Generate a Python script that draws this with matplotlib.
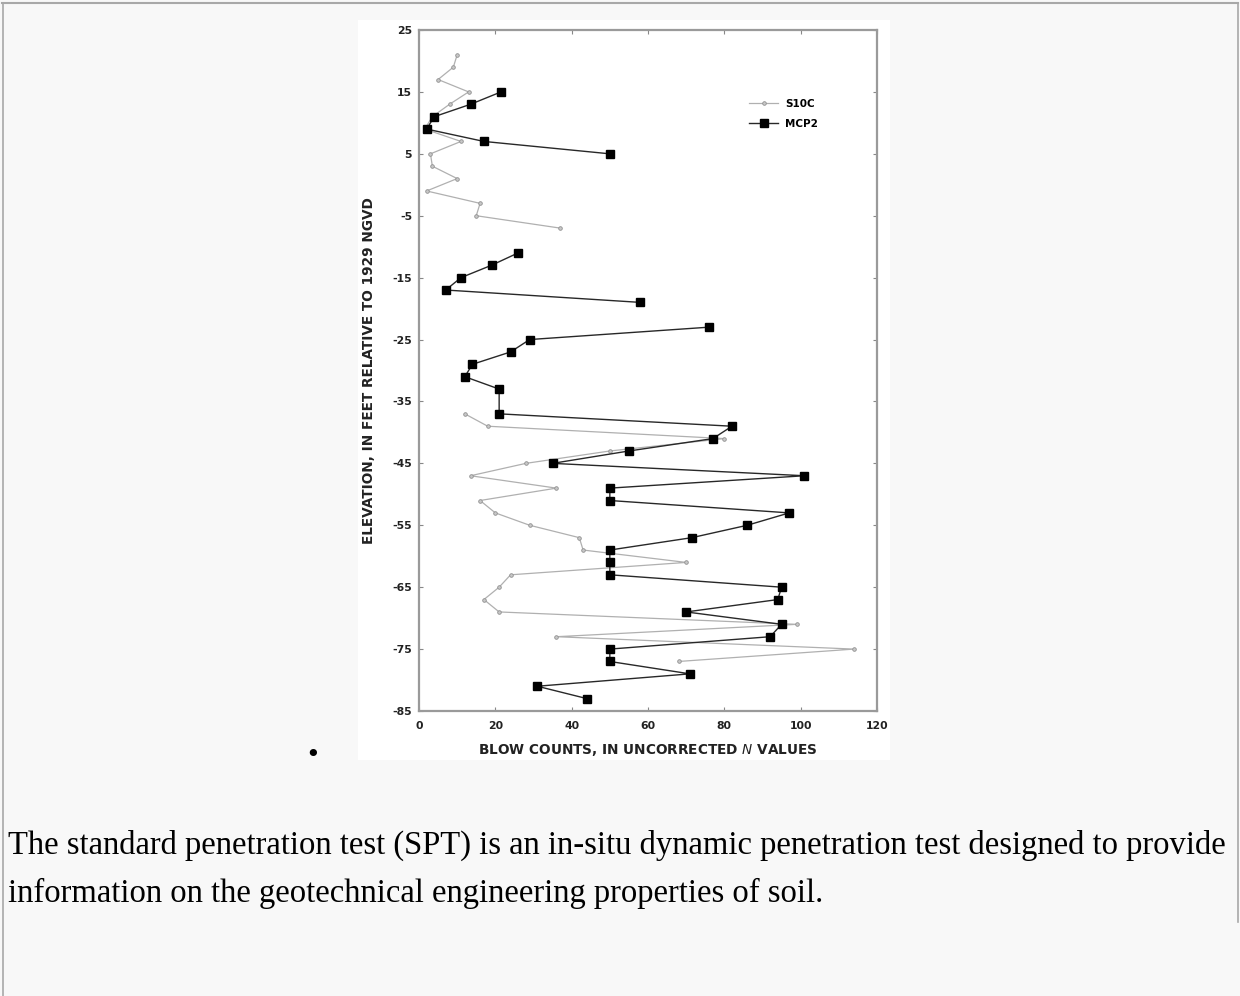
import numpy as np
import matplotlib
matplotlib.use("Agg")
import matplotlib.pyplot as plt
from matplotlib.patches import Rectangle
from matplotlib.lines import Line2D

# ---------------- data ----------------
s10c_elev = [21, 19, 17, 15, 13, 11, 9, 7, 5, 3, 1, -1, -3, -5, -7, np.nan,
             -37, -39, -41, -43, -45, -47, -49, -51, -53, -55, -57, -59, -61,
             -63, -65, -67, -69, -71, -73, -75, -77]
s10c_n = [10, 9, 5, 13, 8, 3.5, 1.5, 11, 3, 3.5, 10, 2, 16, 15, 37, np.nan,
          12, 18, 80, 50, 28, 13.5, 36, 16, 20, 29, 42, 43, 70,
          24, 21, 17, 21, 99, 36, 114, 68]

mcp2_elev = [15, 13, 11, 9, 7, 5, np.nan, -11, -13, -15, -17, -19, np.nan,
             -23, -25, -27, -29, -31, -33, -37, -39, -41, -43, -45, -47, -49,
             -51, -53, -55, -57, -59, -61, -63, -65, -67, -69, -71, -73, -75,
             -77, -79, -81, -83]
mcp2_n = [21.5, 13.5, 4, 2, 17, 50, np.nan, 26, 19, 11, 7, 58, np.nan,
          76, 29, 24, 14, 12, 21, 21, 82, 77, 55, 35, 101, 50,
          50, 97, 86, 71.5, 50, 50, 50, 95, 94, 70, 95, 92, 50,
          50, 71, 31, 44]

x_ticks = [0, 20, 40, 60, 80, 100, 120]
y_ticks = [25, 15, 5, -5, -15, -25, -35, -45, -55, -65, -75, -85]
series_names = ["S10C", "MCP2"]
x_label = "BLOW COUNTS, IN UNCORRECTED $\\mathit{N}$ VALUES"
y_label = "ELEVATION, IN FEET RELATIVE TO 1929 NGVD"
body_lines = [
    "The standard penetration test (SPT) is an in-situ dynamic penetration test designed to provide",
    "information on the geotechnical engineering properties of soil.",
]

# ---------------- figure ----------------
W, H = 1240, 996
fig = plt.figure(figsize=(W / 100, H / 100), dpi=100)
fig.patch.set_facecolor("#f8f8f8")

def fx(px):
    return px / W

def fy(py):
    return 1 - py / H

# page borders
border = "#a8a8a8"
fig.add_artist(Line2D([fx(2), fx(1238)], [fy(3), fy(3)], color=border, lw=1.5))
fig.add_artist(Line2D([fx(2.5), fx(2.5)], [fy(3), fy(996)], color=border, lw=1.2))
fig.add_artist(Line2D([fx(1237.5), fx(1237.5)], [fy(3), fy(922)], color=border, lw=1.2))

# white image area of the chart
fig.add_artist(Rectangle((fx(358), fy(760)), fx(890) - fx(358), fy(20) - fy(760),
                         facecolor="white", edgecolor="none", zorder=0))

ax = fig.add_axes([fx(419), fy(711), fx(877) - fx(419), fy(30) - fy(711)])
ax.set_facecolor("white")

ax.plot(s10c_n, s10c_elev, color="#b0b0b0", lw=0.9, marker="o", markersize=2.6,
        markerfacecolor="#c8c8c8", markeredgecolor="#909090", markeredgewidth=0.6,
        label=series_names[0], zorder=2)
ax.plot(mcp2_n, mcp2_elev, color="#282828", lw=1.0, marker="s", markersize=6,
        markerfacecolor="black", markeredgecolor="black",
        label=series_names[1], zorder=3)

ax.set_xlim(0, 120)
ax.set_ylim(-85, 25)
ax.set_xticks(x_ticks)
ax.set_yticks(y_ticks)
ax.set_xticklabels([str(v) for v in x_ticks])
ax.set_yticklabels([str(v) for v in y_ticks])
ax.tick_params(direction="in", length=3, width=0.8, color="#888888",
               top=True, right=True, labelsize=7.8, labelcolor="#222222")
ax.tick_params(axis="y", pad=5)
ax.tick_params(axis="x", pad=7)
for lab in ax.get_xticklabels() + ax.get_yticklabels():
    lab.set_fontweight("bold")
for sp in ax.spines.values():
    sp.set_color("#9a9a9a")
    sp.set_linewidth(1.6)

ax.set_xlabel(x_label, fontsize=9.8, fontweight="bold", color="#222222", labelpad=8)
ax.set_ylabel(y_label, fontsize=9.8, fontweight="bold", color="#222222", labelpad=12)

leg = ax.legend(loc="upper left", bbox_to_anchor=(0.70, 0.913), frameon=False,
                handlelength=2.8, handletextpad=0.7, labelspacing=1.0,
                prop={"weight": "bold", "size": 7.5})

# bullet
fig.text(fx(313), fy(755), "\u2022", fontsize=18, ha="center", va="center", color="black")

# body text
fig.text(fx(8), fy(854), body_lines[0], fontsize=23.5, family="Liberation Serif",
         ha="left", va="baseline", color="black")
fig.text(fx(8), fy(902), body_lines[1], fontsize=23.5, family="Liberation Serif",
         ha="left", va="baseline", color="black")

fig.savefig("out.png", dpi=100, facecolor=fig.get_facecolor())
